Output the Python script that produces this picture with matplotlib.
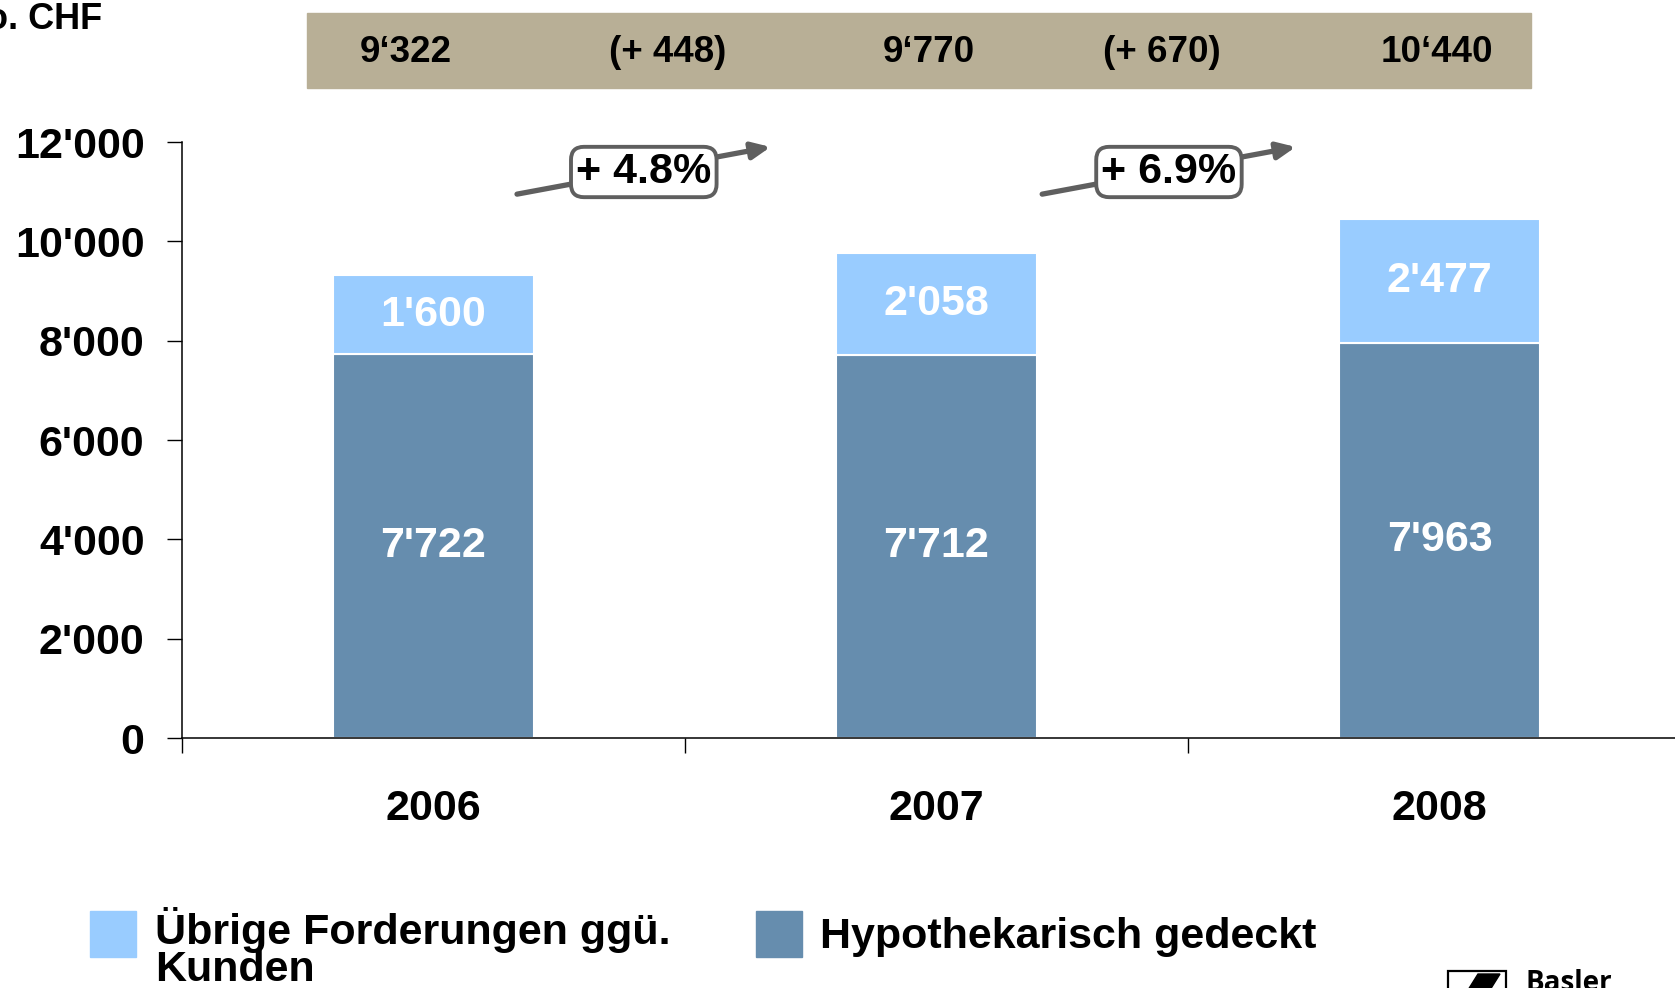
import matplotlib
matplotlib.use("Agg")
import matplotlib.pyplot as plt
from matplotlib.patches import Rectangle, Polygon

plt.rcParams["font.family"] = ["Liberation Sans", "DejaVu Sans"]
plt.rcParams["font.weight"] = "bold"

# ── data ──────────────────────────────────────────────────────────────────────
YEARS = ["2006", "2007", "2008"]
HYPO = [7722, 7712, 7963]            # Hypothekarisch gedeckt
UEBRIGE = [1600, 2058, 2477]         # Übrige Forderungen ggü. Kunden
HYPO_LBL = ["7'722", "7'712", "7'963"]
UEBRIGE_LBL = ["1'600", "2'058", "2'477"]
BAND_LBL = ["9‘322", "(+ 448)", "9‘770", "(+ 670)", "10‘440"]
GROWTH_LBL = ["+ 4.8%", "+ 6.9%"]
YTICKS = [0, 2000, 4000, 6000, 8000, 10000, 12000]
YTICK_LBL = ["0", "2'000", "4'000", "6'000", "8'000", "10'000", "12'000"]

LIGHT, DARK, BAND, GREY = "#99CCFF", "#668DAE", "#B8AF96", "#5F5F5F"
W, H = 1675, 988


def fx(px): return px / W
def fy(py): return 1 - py / H


fig = plt.figure(figsize=(W / 100, H / 100), dpi=100)
ax = fig.add_axes([fx(182), fy(738), 1 - fx(182), fy(142) - fy(738)])

x = list(range(len(YEARS)))
ax.bar(x, HYPO, width=0.4, color=DARK, edgecolor="white", linewidth=1.5)
ax.bar(x, UEBRIGE, width=0.4, bottom=HYPO, color=LIGHT, edgecolor="white", linewidth=1.5)
for i in x:
    ax.text(i, HYPO[i] / 2, HYPO_LBL[i], ha="center", va="center", color="white", fontsize=31)
    ax.text(i, HYPO[i] + UEBRIGE[i] / 2, UEBRIGE_LBL[i], ha="center", va="center",
            color="white", fontsize=31)

ax.set_xlim(-0.5, 2.468)
ax.set_ylim(0, 12000)
ax.set_yticks(YTICKS)
ax.set_yticklabels(YTICK_LBL, fontsize=31)
ax.set_xticks(x)
ax.set_xticklabels(YEARS, fontsize=31)
ax.set_xticks([-0.5, 0.5, 1.5], minor=True)
ax.tick_params(axis="x", which="major", length=0, pad=37)
ax.tick_params(axis="x", which="minor", length=11, width=1, direction="out")
ax.tick_params(axis="y", length=11, width=1, pad=16, direction="out")
for s in ("top", "right"):
    ax.spines[s].set_visible(False)
for s in ("left", "bottom"):
    ax.spines[s].set_linewidth(1.1)

# growth arrows with boxed labels (second pair sits a little further right)
for k, lbl in enumerate(GROWTH_LBL):
    off = k * 1.044
    ax.annotate("", xy=(off + 0.67, 11900), xytext=(off + 0.166, 10950),
                arrowprops=dict(arrowstyle="-|>,head_length=1.1,head_width=0.5",
                                color=GREY, lw=3.8, shrinkA=0, shrinkB=0),
                annotation_clip=False)
    ax.text(off + 0.418, 11396, lbl, ha="center", va="center", fontsize=31,
            bbox=dict(boxstyle="round,pad=0.12,rounding_size=0.3", fc="white",
                      ec=GREY, lw=2.8), zorder=5)

# band with totals at the top
fig.patches.append(Rectangle((fx(307), fy(88)), fx(1531) - fx(307), fy(13) - fy(88),
                             transform=fig.transFigure, color=BAND, zorder=0))
for px, lbl in zip([406, 668, 929, 1162, 1437], BAND_LBL):
    fig.text(fx(px), fy(52), lbl, ha="center", va="center", fontsize=26.5)

fig.text(fx(102), fy(29), "Mio. CHF", ha="right", va="baseline", fontsize=26)

# legend
fig.patches.append(Rectangle((fx(90), fy(957)), fx(46), 46 / H, transform=fig.transFigure,
                             color=LIGHT))
fig.text(fx(155), fy(944), "Übrige Forderungen ggü.", ha="left", va="baseline", fontsize=31)
fig.text(fx(155), fy(981), "Kunden", ha="left", va="baseline", fontsize=31)
fig.patches.append(Rectangle((fx(756), fy(957)), fx(46), 46 / H, transform=fig.transFigure,
                             color=DARK))
fig.text(fx(820), fy(948), "Hypothekarisch gedeckt", ha="left", va="baseline", fontsize=31)

# logo fragment, bottom right
fig.patches.append(Rectangle((fx(1448), fy(995)), fx(58), 24 / H, transform=fig.transFigure,
                             fill=False, ec="black", lw=1.6))
fig.patches.append(Polygon([(fx(1468), fy(990)), (fx(1478), fy(974)), (fx(1500), fy(974)),
                            (fx(1490), fy(990))], closed=True, transform=fig.transFigure,
                           color="black"))
fig.text(fx(1525), fy(969), "Basler", ha="left", va="top", fontsize=20,
         fontweight="bold", family="Open Sans")

fig.savefig("out.png", dpi=100)
